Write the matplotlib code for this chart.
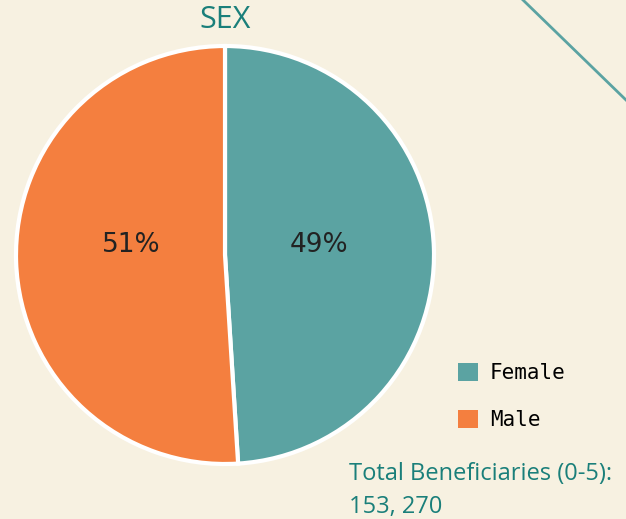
import matplotlib
matplotlib.use("Agg")
import matplotlib.pyplot as plt
from matplotlib.patches import Patch
from matplotlib.lines import Line2D

# data
labels = ["Female", "Male"]
shares = [49, 51]
colors = ["#5BA3A2", "#F47F3F"]
title = "SEX"
note = "Total Beneficiaries (0-5):\n153, 270"

BG = "#F7F1E1"
TEAL_TXT = "#1A7F7A"

W, H = 626, 519
fig = plt.figure(figsize=(W / 100, H / 100), dpi=100, facecolor=BG)

# decorative diagonal line top-right
fig.add_artist(Line2D([523 / W, 1.0], [1.0, 1 - 100 / H], color="#5BA3A2",
                      linewidth=2, transform=fig.transFigure))

ax = fig.add_axes([16 / W, 54 / H, 418 / W, 420 / H])
ax.set_facecolor(BG)
wedges, _, autotexts = ax.pie(
    shares, colors=colors, startangle=90, counterclock=False,
    autopct="%d%%", pctdistance=0.45,
    wedgeprops=dict(edgecolor="white", linewidth=3),
    textprops=dict(fontsize=19, color="#222222", family="DejaVu Sans"),
)
# both labels sit a bit above centre in the reference
for t in autotexts:
    x, y = t.get_position()
    t.set_position((x, 0.05))
ax.set_aspect("equal")
ax.set_xlim(-1, 1)
ax.set_ylim(-1, 1)

fig.text(225 / W, 1 - 20 / H, title, ha="center", va="center",
         fontsize=22, color=TEAL_TXT, family="Open Sans")

handles = [Patch(facecolor=c, edgecolor="none") for c in colors]
fig.legend(handles, labels, loc="upper left", bbox_to_anchor=(439 / W, 1 - 344 / H),
           frameon=False, handlelength=0.95, handleheight=0.95, handletextpad=0.6,
           labelspacing=1.3, prop=dict(family="DejaVu Sans Mono", size=15))

fig.text(349 / W, 1 - 490 / H, note, ha="left", va="center",
         fontsize=17, color=TEAL_TXT, family="Open Sans", linespacing=1.5)

fig.savefig("out.png", dpi=100, facecolor=BG)
